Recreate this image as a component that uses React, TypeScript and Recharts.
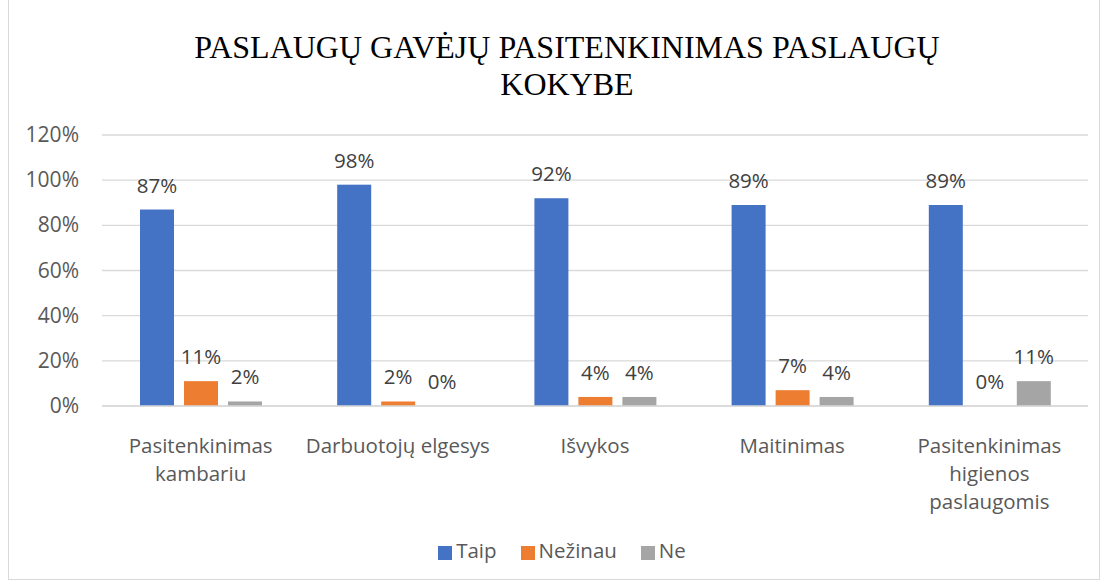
import React from "react";
import { BarChart, Bar, XAxis, YAxis, CartesianGrid, Legend } from "recharts";

const categories = [
  "Pasitenkinimas kambariu",
  "Darbuotojų elgesys",
  "Išvykos",
  "Maitinimas",
  "Pasitenkinimas higienos paslaugomis",
];
const taip = [87, 98, 92, 89, 89];
const nezinau = [11, 2, 4, 7, 0];
const ne = [2, 0, 4, 4, 11];
const yTicks = [0, 20, 40, 60, 80, 100, 120];
const seriesOrder = ["Taip", "Nežinau", "Ne"];

// x tick label line breaks, as in the original
const tickLines: Record<string, string[]> = {
  "Pasitenkinimas kambariu": ["Pasitenkinimas", "kambariu"],
  "Darbuotojų elgesys": ["Darbuotojų elgesys"],
  "Išvykos": ["Išvykos"],
  "Maitinimas": ["Maitinimas"],
  "Pasitenkinimas higienos paslaugomis": ["Pasitenkinimas", "higienos", "paslaugomis"],
};

const FONT = "'Open Sans', sans-serif";
const TEXT = "#595959";
const FS = 20.5;

const data = categories.map((c, i) => ({
  name: c,
  taip: taip[i],
  nezinau: nezinau[i],
  ne: ne[i],
}));

function CategoryTick(props: any) {
  const { x, y, payload } = props;
  const lines = tickLines[payload.value] || [payload.value];
  return (
    <g transform={`translate(${x},${y})`}>
      {lines.map((l, i) => (
        <text key={i} x={0} y={39 + i * 28} textAnchor="middle" fill={TEXT} fontSize={FS} fontFamily={FONT}>
          {l}
        </text>
      ))}
    </g>
  );
}

function PercentTick(props: any) {
  const { y, payload } = props;
  return (
    <text x={79} y={y + 7} textAnchor="end" fill={TEXT} fontSize={21} fontFamily={FONT}>
      {`${payload.value}%`}
    </text>
  );
}

// bar + value label; drawn in the shape so zero-height bars still get their "0%"
function LabeledBar(props: any) {
  const { x, y, width, height, fill, value } = props;
  const v = Array.isArray(value) ? value[1] - value[0] : value;
  return (
    <g>
      {height > 0 && <rect x={x} y={y} width={width} height={height} fill={fill} />}
      <text x={x + width / 2} y={y - 17} textAnchor="middle" fill="#404040" fontSize={FS} fontFamily={FONT}>
        {`${v}%`}
      </text>
    </g>
  );
}

export default function App() {
  return (
    <div style={{ position: "fixed", left: 0, top: 0, width: 1106, height: 584, background: "#fff" }}>
      <div
        style={{
          position: "absolute",
          left: 8,
          top: 0,
          width: 1092,
          height: 580,
          border: "1px solid #d9d9d9",
          borderTop: "none",
          boxSizing: "border-box",
        }}
      />
      <div
        style={{
          position: "absolute",
          left: 0,
          top: 29,
          width: 1134,
          textAlign: "center",
          fontFamily: "'Liberation Serif', 'Times New Roman', serif",
          fontSize: 32,
          lineHeight: "37px",
          color: "#000",
        }}
      >
        PASLAUGŲ GAVĖJŲ PASITENKINIMAS PASLAUGŲ
        <br />
        KOKYBE
      </div>
      <div style={{ position: "absolute", left: 0, top: 0 }}>
        <BarChart
          width={1106}
          height={584}
          data={data}
          margin={{ top: 135, right: 18, left: 0, bottom: 20 }}
          barSize={34}
          barGap={10}
        >
          <CartesianGrid vertical={false} stroke="#d9d9d9" strokeWidth={1.3} />
          <XAxis
            dataKey="name"
            axisLine={{ stroke: "#d9d9d9", strokeWidth: 1.3 }}
            tickLine={false}
            tick={<CategoryTick />}
            height={130}
            interval={0}
          />
          <YAxis
            width={102}
            domain={[0, 120]}
            ticks={yTicks}
            axisLine={false}
            tickLine={false}
            tick={<PercentTick />}
          />
          <Legend
            verticalAlign="bottom"
            iconType="square"
            iconSize={14}
            itemSorter={(item: any) => seriesOrder.indexOf(item.value)}
            wrapperStyle={{ fontFamily: FONT, fontSize: FS, left: 30 }}
            formatter={(v: string) => <span style={{ color: TEXT, marginRight: 14 }}>{v}</span>}
          />
          <Bar dataKey="taip" name="Taip" fill="#4472C4" isAnimationActive={false} shape={<LabeledBar />} />
          <Bar dataKey="nezinau" name="Nežinau" fill="#ED7D31" isAnimationActive={false} shape={<LabeledBar />} />
          <Bar dataKey="ne" name="Ne" fill="#A5A5A5" isAnimationActive={false} shape={<LabeledBar />} />
        </BarChart>
      </div>
    </div>
  );
}
